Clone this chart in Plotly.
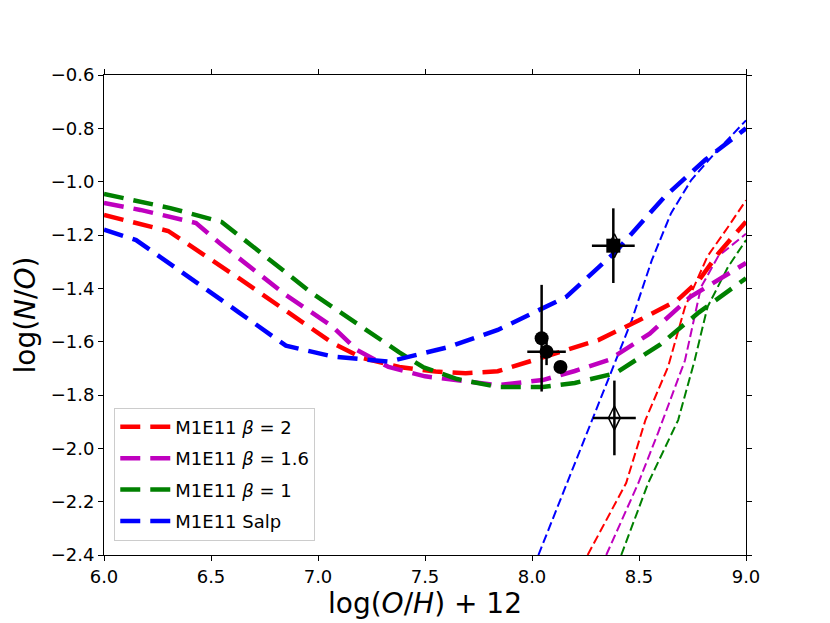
import plotly.graph_objects as go

# thick model tracks (M1E11)
x_b2 = [6.0, 6.3, 6.63, 6.85, 7.07, 7.21, 7.38, 7.55, 7.69, 7.84, 8.05, 8.31, 8.5, 8.68, 8.78, 8.87, 9.0]
y_b2 = [-1.125, -1.185, -1.362, -1.482, -1.606, -1.662, -1.695, -1.712, -1.718, -1.711, -1.66, -1.594, -1.52, -1.444, -1.37, -1.27, -1.15]

x_b16 = [6.0, 6.17, 6.43, 6.54, 6.85, 7.07, 7.18, 7.33, 7.5, 7.69, 7.84, 8.05, 8.2, 8.36, 8.55, 8.74, 9.0]
y_b16 = [-1.08, -1.106, -1.155, -1.23, -1.425, -1.545, -1.63, -1.695, -1.73, -1.75, -1.763, -1.744, -1.71, -1.668, -1.57, -1.432, -1.305]

x_b1 = [6.0, 6.31, 6.55, 6.97, 7.38, 7.49, 7.65, 7.84, 8.05, 8.2, 8.39, 8.6, 8.78, 9.0]
y_b1 = [-1.046, -1.099, -1.151, -1.417, -1.64, -1.695, -1.74, -1.77, -1.77, -1.755, -1.718, -1.61, -1.49, -1.362]

x_salp = [6.0, 6.15, 6.63, 6.85, 7.07, 7.33, 7.61, 7.84, 8.16, 8.39, 8.62, 8.81, 9.0]
y_salp = [-1.18, -1.219, -1.49, -1.615, -1.656, -1.675, -1.62, -1.556, -1.432, -1.263, -1.056, -0.918, -0.8]

# thin tracks
xt_b2 = [8.26, 8.44, 8.53, 8.636, 8.715, 8.82, 8.916, 9.0]
yt_b2 = [-2.4, -2.13, -1.894, -1.694, -1.47, -1.28, -1.17, -1.07]
xt_b16 = [8.347, 8.497, 8.59, 8.715, 8.79, 8.87, 9.0]
yt_b16 = [-2.4, -2.13, -1.94, -1.67, -1.395, -1.28, -1.195]
xt_b1 = [8.417, 8.543, 8.683, 8.76, 8.82, 8.916, 9.0]
yt_b1 = [-2.4, -2.13, -1.894, -1.67, -1.47, -1.32, -1.219]
xt_salp = [8.03, 8.28, 8.466, 8.56, 8.65, 8.744, 8.855, 9.0]
yt_salp = [-2.4, -1.894, -1.52, -1.294, -1.118, -0.994, -0.893, -0.77]

# observations
obs_x = [8.045, 8.068, 8.133]
obs_y = [-1.587, -1.638, -1.695]
obs_xerr = [0, 0.09, 0]
obs_yerr = [0.2, 0.05, 0]
sq_x, sq_y, sq_xerr, sq_yerr = [8.38], [-1.24], [0.1], [0.14]
dm_x, dm_y, dm_xerr, dm_yerr = [8.385, 8.385], [-1.886, -1.24], [0.1, 0], [0.14, 0]

fig = go.Figure()

thick = [
    (x_b2, y_b2, '#ff0000', 'M1E11 <i>β</i> = 2'),
    (x_b16, y_b16, '#bf00bf', 'M1E11 <i>β</i> = 1.6'),
    (x_b1, y_b1, '#008000', 'M1E11 <i>β</i> = 1'),
    (x_salp, y_salp, '#0000ff', 'M1E11 Salp'),
]
thin = [(xt_b2, yt_b2, '#ff0000'), (xt_b16, yt_b16, '#bf00bf'),
        (xt_b1, yt_b1, '#008000'), (xt_salp, yt_salp, '#0000ff')]

for xs, ys, c in thin:
    fig.add_trace(go.Scatter(x=xs, y=ys, mode='lines', showlegend=False,
                             line=dict(color=c, width=2, dash='9px,4px')))
for i, (xs, ys, c, name) in enumerate(thick):
    fig.add_trace(go.Scatter(x=xs, y=ys, mode='lines', name=name, legendgroup='g%d' % i,
                             line=dict(color=c, width=4.5, dash='20px,10px')))

fig.add_trace(go.Scatter(x=obs_x, y=obs_y, mode='markers', showlegend=False,
                         marker=dict(symbol='circle', size=14, color='black'),
                         error_x=dict(array=obs_xerr, color='black', thickness=2.5, width=0),
                         error_y=dict(array=obs_yerr, color='black', thickness=2.5, width=0)))
fig.add_trace(go.Scatter(x=dm_x, y=dm_y, mode='markers', showlegend=False,
                         marker=dict(symbol='diamond-tall-open', size=17, color='black',
                                     line=dict(width=1.5, color='black')),
                         error_x=dict(array=dm_xerr, color='black', thickness=2.5, width=0),
                         error_y=dict(array=dm_yerr, color='black', thickness=2.5, width=0)))
fig.add_trace(go.Scatter(x=sq_x, y=sq_y, mode='markers', showlegend=False,
                         marker=dict(symbol='square', size=14, color='black'),
                         error_x=dict(array=sq_xerr, color='black', thickness=2.5, width=0),
                         error_y=dict(array=sq_yerr, color='black', thickness=2.5, width=0)))

axis = dict(showline=True, linecolor='black', linewidth=1, mirror='ticks',
            ticks='outside', ticklen=5, tickwidth=1, tickcolor='black',
            showgrid=False, zeroline=False, tickformat='.1f',
            tickfont=dict(size=18, color='black'))

# page body adds 8px offset, so figure is shrunk by that amount
fig.update_layout(
    width=822, height=615, autosize=False,
    margin=dict(l=96, r=84, t=67, b=68),
    paper_bgcolor='white', plot_bgcolor='white',
    font=dict(family='DejaVu Sans', color='black'),
    xaxis=dict(axis, range=[6, 9], dtick=0.5,
               title=dict(text='log(<i>O</i>/<i>H</i>) + 12', font=dict(size=28), standoff=1)),
    yaxis=dict(axis, range=[-2.4, -0.6], dtick=0.2,
               title=dict(text='log(<i>N</i>/<i>O</i>)', font=dict(size=28), standoff=6)),
    legend=dict(x=0.016, y=0.03, xanchor='left', yanchor='bottom',
                bgcolor='rgba(255,255,255,0.8)', bordercolor='#cccccc', borderwidth=1,
                font=dict(size=18), itemwidth=50, tracegroupgap=5),
)

fig.write_html("out.html")
